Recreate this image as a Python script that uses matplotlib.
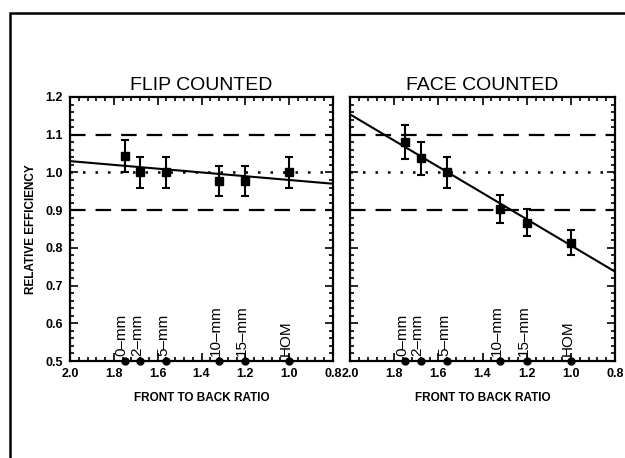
import matplotlib.pyplot as plt
import matplotlib.transforms as mtransforms
from matplotlib.patches import Rectangle
from matplotlib.ticker import MultipleLocator

plt.rcParams['font.family'] = ['Liberation Sans', 'DejaVu Sans']

# front-to-back ratio for each sample
ratio = [1.75, 1.68, 1.56, 1.32, 1.20, 1.00]
sample_labels = ["0–mm", "2–mm", "5–mm", "10–mm", "15–mm", "HOM"]

flip_eff = [1.044, 1.000, 1.000, 0.978, 0.978, 1.000]
flip_err = [0.043, 0.040, 0.040, 0.040, 0.040, 0.040]
face_eff = [1.081, 1.037, 1.000, 0.902, 0.867, 0.814]
face_err = [0.045, 0.043, 0.041, 0.037, 0.035, 0.033]

# fitted lines, value at each end of the x range
fit_x = [2.0, 0.8]
flip_fit = [1.030, 0.970]
face_fit = [1.154, 0.737]

fig = plt.figure(figsize=(6.25, 4.58), dpi=100)
fig.patch.set_facecolor('white')

# page frame of the scanned figure
fig.add_artist(Rectangle((10 / 625, -0.1), 1.2, 1.1 - 13 / 458, transform=fig.transFigure,
                         fill=False, lw=1.8, edgecolor='black', clip_on=False))

ax1 = fig.add_axes([70 / 625, 97 / 458, 263 / 625, 264 / 458])
ax2 = fig.add_axes([350 / 625, 97 / 458, 265 / 625, 264 / 458])

panels = [(ax1, "FLIP COUNTED", flip_eff, flip_err, flip_fit),
          (ax2, "FACE COUNTED", face_eff, face_err, face_fit)]

for ax, title, eff, err, fit in panels:
    ax.set_xlim(2.0, 0.8)
    ax.set_ylim(0.5, 1.2)
    ax.axhline(1.1, color='black', lw=1.6, ls=(0, (7, 4.5)))
    ax.axhline(0.9, color='black', lw=1.6, ls=(0, (7, 4.5)))
    ax.axhline(1.0, color='black', lw=1.8, ls=(0, (1, 4)))
    ax.plot(fit_x, fit, color='black', lw=1.5)
    ax.errorbar(ratio, eff, yerr=err, fmt='s', color='black', ms=5.5,
                elinewidth=1.5, capsize=3, capthick=1.5)
    ax.plot(ratio, [0.5] * len(ratio), 'o', color='black', ms=5, clip_on=False, zorder=5)
    shift = mtransforms.offset_copy(ax.transData, fig=fig, x=-3, y=0, units='dots')
    for x, lab in zip(ratio, sample_labels):
        ax.text(x, 0.514, lab, rotation=90, ha='center', va='bottom', fontsize=11,
                transform=shift)
    ax.set_title(title, fontsize=14, pad=5)
    ax.set_xlabel("FRONT TO BACK RATIO", fontsize=8.5, fontweight='bold', labelpad=9)
    ax.xaxis.set_major_locator(MultipleLocator(0.2))
    ax.xaxis.set_minor_locator(MultipleLocator(0.04))
    ax.yaxis.set_major_locator(MultipleLocator(0.1))
    ax.yaxis.set_minor_locator(MultipleLocator(0.02))
    ax.tick_params(which='both', direction='in', top=True, right=True, width=1.2,
                   labelsize=9, pad=5)
    ax.tick_params(which='major', length=6)
    ax.tick_params(which='minor', length=3)
    ax.xaxis.set_major_formatter(plt.FuncFormatter(lambda v, p: f"{v:.1f}"))
    ax.yaxis.set_major_formatter(plt.FuncFormatter(lambda v, p: f"{v:.1f}"))
    for lab in ax.get_xticklabels() + ax.get_yticklabels():
        lab.set_fontweight('bold')
    for s in ax.spines.values():
        s.set_linewidth(1.6)

ax1.set_ylabel("RELATIVE EFFICIENCY", fontsize=8.5, fontweight='bold', labelpad=6)
ax2.tick_params(labelleft=False)

fig.savefig('out.png', dpi=100)
